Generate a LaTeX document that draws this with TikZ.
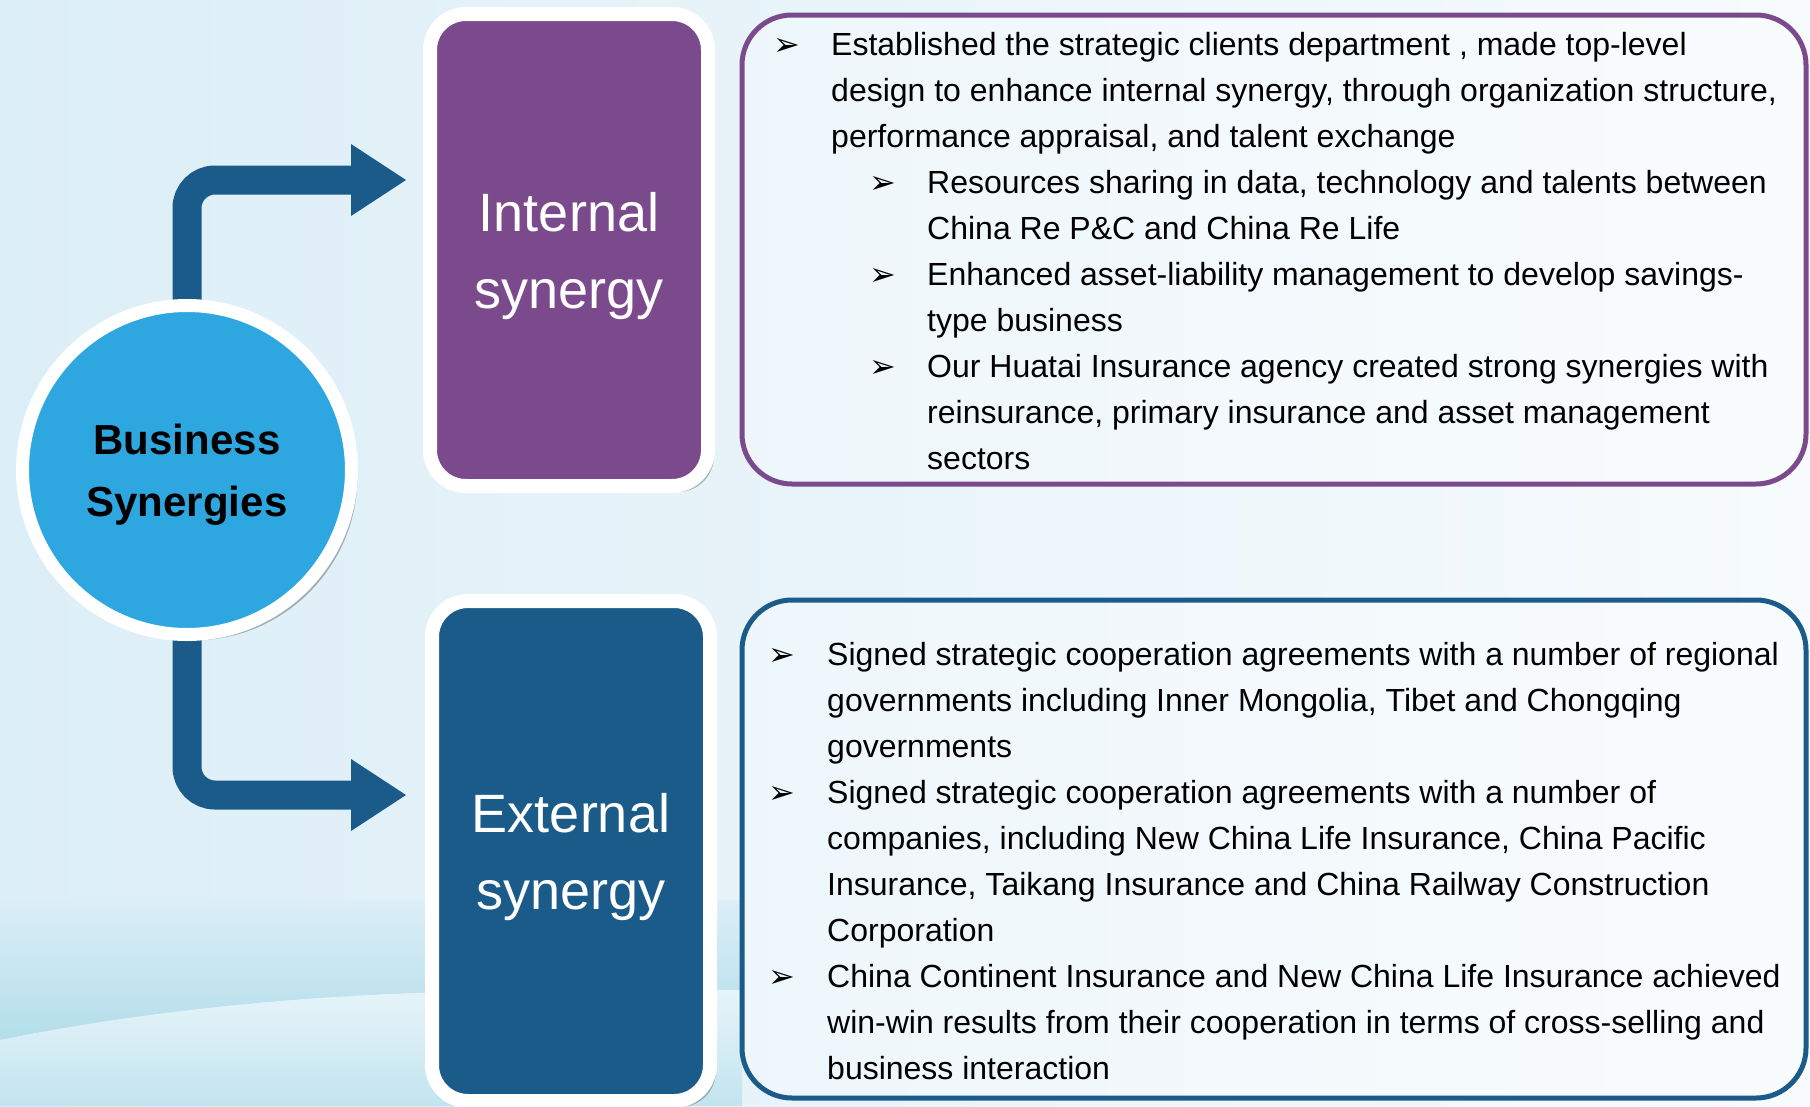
\documentclass[tikz,border=0pt]{standalone}
\usepackage{fontspec}
\setmainfont{Liberation Sans}
\newfontfamily\fontemarca{DejaVu Sans}
\usetikzlibrary{arrows.meta, shadows}

\definecolor{roxo}{HTML}{7B4A8C}
\definecolor{azulescuro}{HTML}{1A5B8A}
\definecolor{azulclaro}{HTML}{2EA7E0}
\definecolor{fundoesq}{HTML}{DCEEF7}
\definecolor{fundodir}{HTML}{F7FBFD}
\definecolor{onda}{HTML}{B2DEEA}
\definecolor{ondaclara}{HTML}{E6F4F9}
\definecolor{rodape}{HTML}{C2E4EF}

\pgfdeclarelayer{fundo}
\pgfdeclarelayer{setas}
\pgfsetlayers{fundo,setas,main}

\newcommand{\marcador}{{\fontemarca\fontsize{32}{32}\selectfont ➢}}

\begin{document}
\begin{tikzpicture}[x=1pt, y=-1pt,
    sombra/.style={drop shadow={shadow xshift=6pt, shadow yshift=-6pt, fill=black, opacity=0.28}},
    caixa/.style={rectangle, rounded corners=36pt, draw=white, line width=14pt, text=white, align=center,
      font=\fontsize{54}{77}\selectfont, minimum width=278pt, inner sep=0pt, sombra},
    quadro/.style={rectangle, rounded corners=50pt, line width=5pt, fill=white, fill opacity=0.3,
      minimum width=1064pt, inner sep=0pt},
    texto/.style={anchor=north west, align=left, inner sep=0pt, font=\fontsize{32}{46}\selectfont},
    marca/.style={anchor=base west, inner sep=0pt},
    fluxo/.style={draw=azulescuro, line width=29pt, rounded corners=28pt,
      -{Triangle[length=55pt, width=72pt, line width=0pt]}}]
    \useasboundingbox (0,0) rectangle (1810,1106);

    % Fundo
    \begin{pgfonlayer}{fundo}
    \shade[left color=fundoesq, right color=fundodir] (0,0) rectangle (1810,1106);
    \shade[top color=fundoesq, bottom color=onda] (0,1040) .. controls (150,1010) and (300,996) .. (450,992)
      -- (742,990) -- (742,900) -- (0,900) -- cycle;
    \shade[top color=ondaclara, bottom color=rodape] (0,1040) .. controls (150,1010) and (300,996) .. (450,992)
      -- (742,990) -- (742,1106) -- (0,1106) -- cycle;
    \end{pgfonlayer}

    % Circulo central e caixas
    \node[circle, fill=azulclaro, draw=white, line width=13pt, minimum size=329pt, inner sep=0pt,
      align=center, font=\bfseries\fontsize{42}{62}\selectfont, sombra]
      (hub) at (187,470) {\rule{0pt}{40pt}Business\\Synergies};
    \node[caixa, fill=roxo, minimum height=472pt] (interna) at (569,250) {\rule{0pt}{51pt}Internal\\synergy};
    \node[caixa, fill=azulescuro, minimum height=500pt] (externa) at (571,851) {\rule{0pt}{51pt}External\\synergy};

    % Setas grossas
    \coordinate (pontaint) at (406,180);
    \coordinate (pontaext) at (406,795);
    \begin{pgfonlayer}{setas}
    \draw[fluxo] (hub.center) |- (pontaint);
    \draw[fluxo] (hub.center) |- (pontaext);
    \end{pgfonlayer}

    % Quadros de texto
    \node[quadro, draw=roxo, minimum height=469pt] (quadroint) at (1274,249.5) {};
    \node[quadro, draw=azulescuro, minimum height=498pt] (quadroext) at (1274,849) {};

    % Marcadores
    \foreach \mx/\my [count=\i] in {773/55, 869/193, 869/285, 869/377, 768/665, 768/803, 768/987}
      \node[marca] (m\i) at (\mx,\my) {\marcador};

    % Textos de cima
    \node[texto] (t1) at (831,22.8) {\strut Established the strategic clients department , made top-level\\
      design to enhance internal synergy, through organization structure,\\performance appraisal, and talent exchange};
    \node[texto] (t2) at (927,160.8) {\strut Resources sharing in data, technology and talents between\\
      China Re P\&C and China Re Life};
    \node[texto] (t3) at (927,252.8) {\strut Enhanced asset-liability management to develop savings-\\type business};
    \node[texto] (t4) at (927,344.8) {\strut Our Huatai Insurance agency created strong synergies with\\
      reinsurance, primary insurance and asset management\\sectors};

    % Textos de baixo
    \node[texto] (t5) at (827,632.8) {\strut Signed strategic cooperation agreements with a number of regional\\
      governments including Inner Mongolia, Tibet and Chongqing\\governments};
    \node[texto] (t6) at (827,770.8) {\strut Signed strategic cooperation agreements with a number of\\
      companies, including New China Life Insurance, China Pacific\\
      Insurance, Taikang Insurance and China Railway Construction\\Corporation};
    \node[texto] (t7) at (827,954.8) {\strut China Continent Insurance and New China Life Insurance achieved\\
      win-win results from their cooperation in terms of cross-selling and\\business interaction};
  \end{tikzpicture}
\end{document}
